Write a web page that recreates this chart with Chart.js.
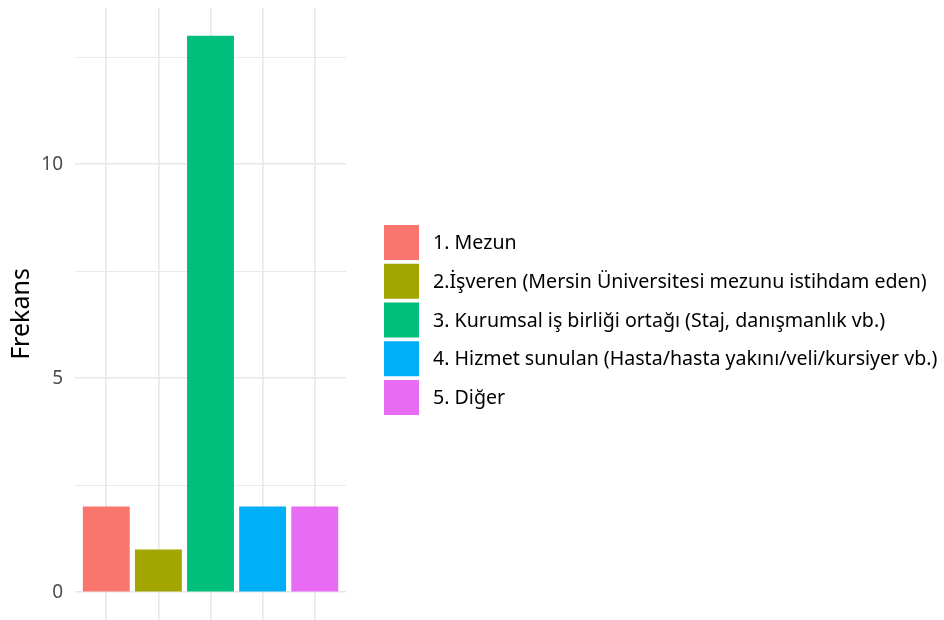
<!DOCTYPE html>
<html>
<head>
<meta charset="utf-8">
<script src="https://cdn.jsdelivr.net/npm/chart.js@4"></script>
<style>
  html, body { margin: 0; padding: 0; background: #fff; }
  #wrap { width: 944px; height: 620px; position: relative; }
</style>
</head>
<body>
<div id="wrap"><canvas id="grafik"></canvas></div>
<script>
// Kategoriler ve frekanslar
const categories = [
    '1. Mezun',
    '2.İşveren (Mersin Üniversitesi mezunu istihdam eden)',
    '3. Kurumsal iş birliği ortağı (Staj, danışmanlık vb.)',
    '4. Hizmet sunulan (Hasta/hasta yakını/veli/kursiyer vb.)',
    '5. Diğer'
];
const frequencies = [2, 1, 13, 2, 2];
const colors = ['#F8766D', '#A3A500', '#00BF7D', '#00B0F6', '#E76BF3'];
const yTicks = [0, 2.5, 5, 7.5, 10, 12.5];
const yLabels = [0, 5, 10];

const positions = categories.map((c, i) => i + 1);

// Lejant: Chart.js'in sağ lejantı genişliğin yarısıyla sınırlı, o yüzden kendimiz çiziyoruz
const sideLegend = {
    id: 'sideLegend',
    afterDraw(chart) {
        const { ctx, chartArea } = chart;
        const box = 35, gap = 3.75;
        const total = categories.length * box + (categories.length - 1) * gap;
        const left = chartArea.right + 38;
        let top = (chartArea.top + chartArea.bottom) / 2 - total / 2 + 6;
        ctx.save();
        ctx.font = '19.6px "Noto Sans"';
        ctx.textBaseline = 'middle';
        categories.forEach((c, i) => {
            ctx.fillStyle = colors[i];
            ctx.fillRect(left, top, box, box);
            ctx.fillStyle = '#000';
            ctx.fillText(c, left + box + 14, top + box / 2 + 1);
            top += box + gap;
        });
        ctx.restore();
    }
};

new Chart(document.getElementById('grafik'), {
    type: 'bar',
    data: {
        datasets: [{
            data: positions.map((p, i) => ({ x: p, y: frequencies[i] })),
            backgroundColor: colors,
            borderWidth: 0,
            categoryPercentage: 1,
            barPercentage: 0.9
        }]
    },
    options: {
        responsive: true,
        maintainAspectRatio: false,
        animation: false,
        layout: { padding: { top: 8, right: 598, bottom: 0, left: 0 } },
        plugins: {
            tooltip: { enabled: false },
            legend: { display: false }
        },
        scales: {
            x: {
                type: 'linear',
                min: 0.4,
                max: 5.6,
                offset: false,
                afterBuildTicks: s => { s.ticks = positions.map(v => ({ value: v })); },
                afterFit: s => { s.height = 0; s.paddingLeft = 0; s.paddingRight = 0; },
                grid: { color: '#e8e8e8', lineWidth: 1.6, drawTicks: false, offset: false },
                border: { display: false },
                ticks: { display: false }
            },
            y: {
                min: -0.65,
                max: 13.65,
                afterBuildTicks: s => { s.ticks = yTicks.map(v => ({ value: v })); },
                afterFit: s => { s.width = 75; s.paddingTop = 0; s.paddingBottom = 0; },
                grid: {
                    color: '#e8e8e8',
                    lineWidth: ctx => (yLabels.includes(ctx.tick && ctx.tick.value) ? 1.6 : 0.9),
                    drawTicks: false
                },
                border: { display: false },
                ticks: {
                    padding: 12,
                    color: '#4d4d4d',
                    font: { family: 'Noto Sans', size: 19 },
                    callback: v => (yLabels.includes(v) ? String(v) : '')
                },
                title: {
                    display: true,
                    text: 'Frekans',
                    color: '#000',
                    font: { family: 'Noto Sans', size: 25 },
                    padding: { top: 7, bottom: 5 }
                }
            }
        }
    },
    plugins: [sideLegend]
});
</script>
</body>
</html>
